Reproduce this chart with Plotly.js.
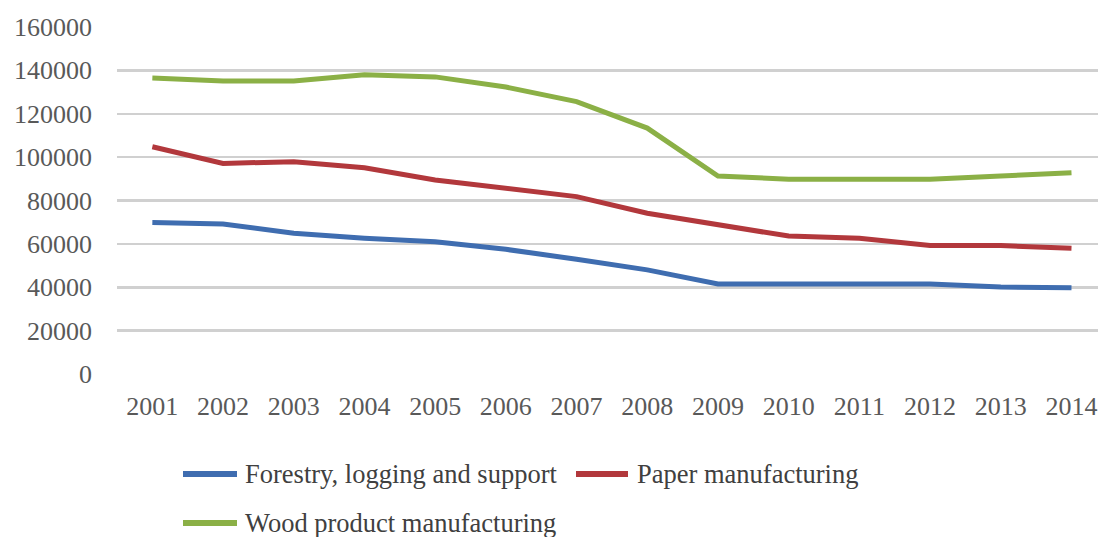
<!DOCTYPE html>
<html>
<head>
<meta charset="utf-8">
<script src="https://cdn.plot.ly/plotly-3.0.1.min.js"></script>
<style>html,body{margin:0;padding:0;background:#fff;}#chart{width:1098px;height:537px;}</style>
</head>
<body>
<div id="chart"></div>
<script>
// ---- data ----
var years = ["2001","2002","2003","2004","2005","2006","2007","2008","2009","2010","2011","2012","2013","2014"];
var seriesNames = ["Forestry, logging and support", "Paper manufacturing", "Wood product manufacturing"];
var forestry = [69900, 69200, 64900, 62600, 61000, 57500, 52900, 48000, 41500, 41500, 41500, 41500, 40100, 39800];
var paper    = [104800, 97100, 97900, 95100, 89500, 85600, 81800, 74100, 68700, 63600, 62600, 59200, 59200, 58000];
var wood     = [136500, 135100, 135100, 138000, 137000, 132300, 125600, 113400, 91300, 89800, 89800, 89800, 91300, 92800];
var yTicks = [0, 20000, 40000, 60000, 80000, 100000, 120000, 140000, 160000];

// ---- styling ----
var colors = ["#3F6DB0", "#B2383C", "#8BB046"];
var values = [forestry, paper, wood];
var W = 1098, H = 537, L = 117, T = 27, B = 163, R = 0;
var plotW = W - L - R, plotH = H - T - B;
function px2x(px){ return (px - L) / plotW; }
function px2y(py){ return (H - B - py) / plotH; }

var traces = values.map(function(v, i){
  return {
    type: "scatter", mode: "lines", x: years, y: v, name: seriesNames[i],
    line: {color: colors[i], width: 5}, showlegend: false, hoverinfo: "skip"
  };
});

// custom legend positions (pixels)
var legendItems = [
  {sx0: 183, sx1: 237, tx: 243, y: 474},
  {sx0: 576, sx1: 628, tx: 635, y: 474},
  {sx0: 183, sx1: 237, tx: 243, y: 523}
];
var shapes = [], annotations = [];
legendItems.forEach(function(it, i){
  shapes.push({type: "line", xref: "paper", yref: "paper",
    x0: px2x(it.sx0), x1: px2x(it.sx1), y0: px2y(it.y), y1: px2y(it.y),
    line: {color: colors[i], width: 6}});
  annotations.push({xref: "paper", yref: "paper", x: px2x(it.tx), y: px2y(it.y),
    xanchor: "left", yanchor: "middle", showarrow: false, text: seriesNames[i],
    font: {family: "Liberation Serif, Times New Roman, serif", size: 26.5, color: "#404040"}});
});

var layout = {
  width: W, height: H,
  margin: {l: L, r: R, t: T, b: B, pad: 0},
  paper_bgcolor: "#ffffff", plot_bgcolor: "#ffffff",
  showlegend: false,
  font: {family: "Liberation Serif, Times New Roman, serif", size: 26, color: "#595959"},
  xaxis: {
    type: "category", range: [-0.5, 13.375], showgrid: false, zeroline: false,
    showline: false, ticks: "", ticklabelstandoff: 14,
    tickfont: {family: "Liberation Serif, Times New Roman, serif", size: 26, color: "#595959"},
    fixedrange: true
  },
  yaxis: {
    range: [0, 160000], tickvals: yTicks, ticktext: yTicks.map(String),
    showgrid: true, gridcolor: "#D0D0D0", gridwidth: 2.5, zeroline: false,
    showline: false, ticks: "", ticklabelstandoff: 24,
    tickfont: {family: "Liberation Serif, Times New Roman, serif", size: 26, color: "#595959"},
    fixedrange: true
  },
  shapes: shapes,
  annotations: annotations
};

Plotly.newPlot("chart", traces, layout, {displayModeBar: false, staticPlot: true});
</script>
</body>
</html>
